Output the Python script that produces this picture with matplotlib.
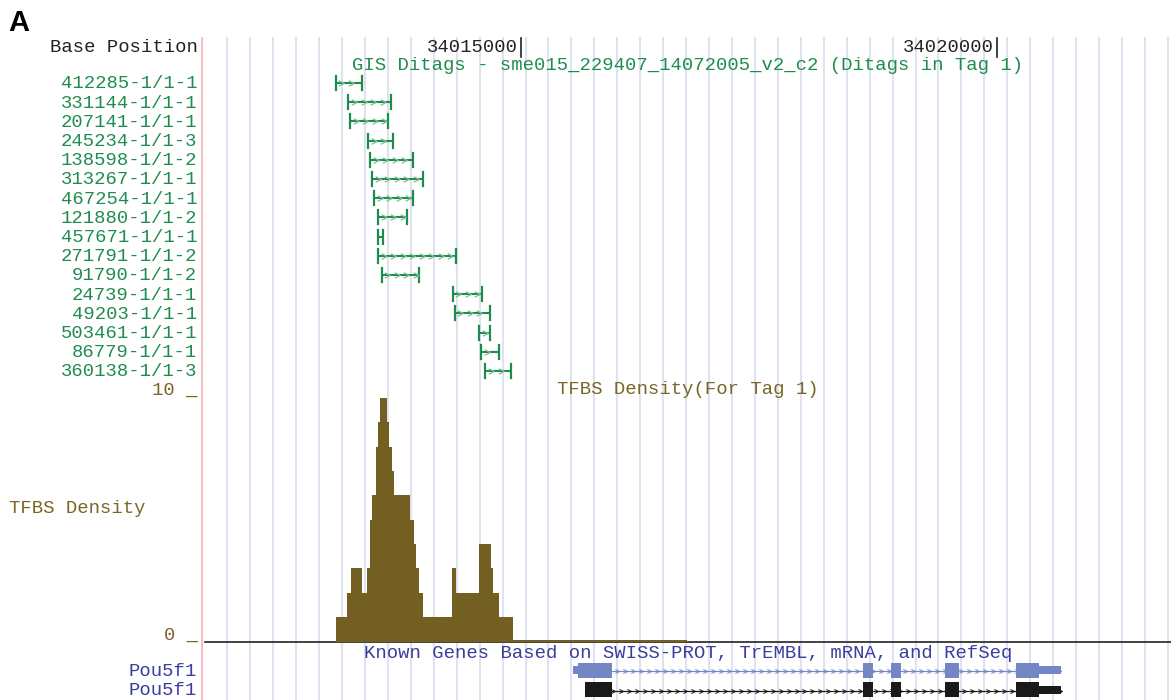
import matplotlib
matplotlib.use("Agg")
import matplotlib.pyplot as plt
import numpy as np
from matplotlib.path import Path

# --- ditags (name, genomic start/end in bp) ---
ditag_names = ["412285-1/1-1", "331144-1/1-1", "207141-1/1-1", "245234-1/1-3",
               "138598-1/1-2", "313267-1/1-1", "467254-1/1-1", "121880-1/1-2",
               "457671-1/1-1", "271791-1/1-2", "91790-1/1-2", "24739-1/1-1",
               "49203-1/1-1", "503461-1/1-1", "86779-1/1-1", "360138-1/1-3"]
ditag_starts = [34013050, 34013184, 34013204, 34013393, 34013412, 34013433,
                34013453, 34013498, 34013498, 34013498, 34013536, 34014282,
                34014301, 34014563, 34014584, 34014625]
ditag_ends = [34013325, 34013634, 34013606, 34013658, 34013868, 34013968,
              34013868, 34013805, 34013554, 34014313, 34013927, 34014594,
              34014674, 34014674, 34014773, 34014895]

# --- TFBS density histogram ---
density_edges = [34013051, 34013167, 34013209, 34013325, 34013377, 34013412,
                 34013436, 34013475, 34013493, 34013517, 34013594, 34013615,
                 34013643, 34013668, 34013833, 34013875, 34013896, 34013931,
                 34013973, 34014278, 34014316, 34014561, 34014681, 34014702,
                 34014772, 34014913, 34016746]
density_values = [1, 2, 3, 2, 3, 5, 6, 8, 9, 10, 9, 8, 7, 6, 5, 4, 3, 2,
                  1, 3, 2, 4, 3, 2, 1, 0.08]

# --- Pou5f1 gene models (known gene, refseq) ---
gene_names = ["Pou5f1", "Pou5f1"]
tx_starts = [34015552, 34015673]
tx_ends = [34020675, 34020675]
cds_starts = [34015595, 34015673]
cds_ends = [34020450, 34020450]
exon_starts = [34015552, 34018596, 34018888, 34019458, 34020205]
exon_ends = [34015957, 34018704, 34018996, 34019609, 34020675]

base_ticks = [34015000, 34020000]

GREEN = "#1f8c4f"
GREEN_LT = "#7fbf95"
OLIVE = "#745f23"
OLIVE_TXT = "#7a6524"
BLUE_TXT = "#3a3d9d"
BLUE_GENE = "#7586c4"
GRID = "#dfe2f1"
MONO = "Liberation Mono"
FS = 13.6

W, H = 1171, 700
PX_PER_BP = 0.0951
X_TICK_PX = 521
bp_left = base_ticks[0] - (X_TICK_PX - 202) / PX_PER_BP
bp_right = base_ticks[0] + (W - X_TICK_PX) / PX_PER_BP

chevron = Path([(-1, 1), (1, 0), (-1, -1)], [Path.MOVETO, Path.LINETO, Path.LINETO])

fig = plt.figure(figsize=(W / 100, H / 100), dpi=100)
fig.patch.set_facecolor("white")

# pixel canvas for labels and guide lines
ax0 = fig.add_axes([0, 0, 1, 1])
ax0.set_xlim(0, W)
ax0.set_ylim(H, 0)
ax0.axis("off")
for gx in 227.3 + 22.94 * np.arange(42):
    ax0.plot([gx, gx], [38, H], color=GRID, lw=1.5, zorder=0)
ax0.plot([202, 202], [38, H], color="#f4b3b3", lw=1.2, zorder=1)
ax0.plot([205, W], [642.3, 642.3], color="#222222", lw=1.2, zorder=5)


def label(x, y, s, color, ha="right", **kw):
    ax0.text(x, y + 5.5, s, color=color, ha=ha, va="baseline",
             family=MONO, fontsize=FS, **kw)


ax0.text(8, 31, "A", family="Liberation Sans", fontweight="bold",
         fontsize=21, va="baseline", ha="left", color="black")
label(198, 47, "Base Position", "#222222")
label(688, 65, "GIS Ditags - sme015_229407_14072005_v2_c2 (Ditags in Tag 1)",
      GREEN, ha="center")
row_y = 83 + 19.2 * np.arange(len(ditag_names))
for name, y in zip(ditag_names, row_y):
    label(197, y, name, GREEN)
label(198, 389, "10 _", OLIVE_TXT)
label(688, 389, "TFBS Density(For Tag 1)", OLIVE_TXT, ha="center")
label(9, 507.5, "TFBS Density", OLIVE_TXT, ha="left")
label(198, 634, "0 _", OLIVE_TXT)
label(688, 653, "Known Genes Based on SWISS-PROT, TrEMBL, mRNA, and RefSeq",
      BLUE_TXT, ha="center")
gene_y = [670, 689.5]
for name, y in zip(gene_names, gene_y):
    label(197, y, name, BLUE_TXT)

# genomic axes (x in bp, y in pixel rows)
ax = fig.add_axes([202 / W, 0, (W - 202) / W, 1])
ax.set_xlim(bp_left, bp_right)
ax.set_ylim(H, 0)
ax.axis("off")
ax.patch.set_alpha(0)

for t in base_ticks:
    ax.plot([t, t], [38, 57], color="#222222", lw=1.2)
    ax.text(t - 30, 52.5, str(t), ha="right", va="baseline", family=MONO,
            fontsize=FS, color="#222222")

for s, e, y in zip(ditag_starts, ditag_ends, row_y):
    ax.plot([s, e], [y, y], color=GREEN, lw=1.5, solid_capstyle="butt")
    ax.plot([s, s], [y - 7, y + 7], color=GREEN, lw=1.6)
    ax.plot([e, e], [y - 7, y + 7], color=GREEN, lw=1.6)
    cx = np.arange(s + 60, e - 30, 100)
    if len(cx):
        ax.plot(cx, np.full(len(cx), y), ls="none", marker=chevron,
                ms=4, mfc="none", mec=GREEN_LT, mew=0.9)

colors = [BLUE_GENE, "#1a1a1a"]
for k, y in enumerate(gene_y):
    c = colors[k]
    ax.plot([tx_starts[k], tx_ends[k]], [y + 1, y + 1], color=c, lw=0.9)
    cx = np.arange(tx_starts[k] + 40, tx_ends[k], 84)
    ax.plot(cx, np.full(len(cx), y + 1), ls="none", marker=chevron, ms=3,
            mfc="none", mec=c, mew=0.7)
    for s, e in zip(exon_starts, exon_ends):
        s = max(s, tx_starts[k])
        # UTR parts thin, coding parts thick
        parts = [(s, min(e, cds_starts[k]), 8), (max(s, cds_starts[k]), min(e, cds_ends[k]), 15),
                 (max(s, cds_ends[k]), e, 8)]
        for a, b, h in parts:
            if b > a:
                ax.broken_barh([(a, b - a)], (y - h / 2, h), facecolors=c, zorder=3)

# density track
ax_d = fig.add_axes([202 / W, (H - 641.5) / H, (W - 202) / W, (641.5 - 398) / H])
ax_d.set_xlim(bp_left, bp_right)
ax_d.set_ylim(0, 10)
ax_d.axis("off")
ax_d.patch.set_alpha(0)
ax_d.stairs(density_values, density_edges, fill=True, color=OLIVE, zorder=4)

fig.savefig("out.png", dpi=100, facecolor="white")
